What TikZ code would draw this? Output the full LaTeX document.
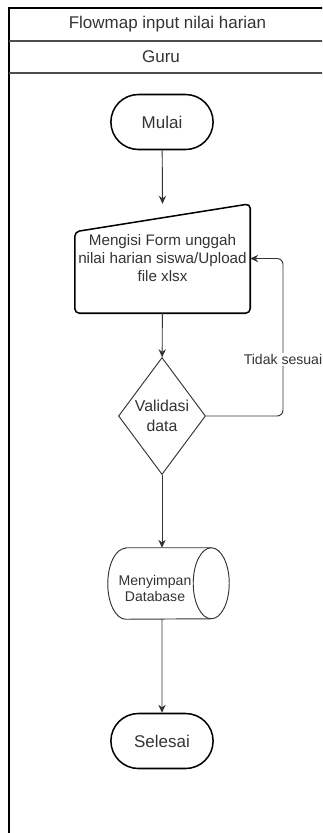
\documentclass[tikz,border=0pt]{standalone}
\usepackage{fontspec}
\setmainfont{Liberation Sans}
\usetikzlibrary{arrows.meta,calc,positioning,shapes.geometric,shapes.misc}
\definecolor{Ink}{HTML}{333333}
\definecolor{LaneLine}{HTML}{4D4D4D}
\tikzset{
  lanetext/.style={text=Ink, font=\fontsize{14.5}{17}\selectfont},
  terminal/.style={
    rounded rectangle, draw=black, line width=1.3pt, text=Ink,
    minimum width=3.3cm, minimum height=1.65cm, font=\fontsize{14.5}{17}\selectfont
  },
  inputbox/.style={
    rectangle, minimum width=5.25cm, minimum height=3.27cm, inner sep=0pt,
    align=center, text=Ink, font=\fontsize{13}{15.4}\selectfont
  },
  decision/.style={
    diamond, draw=Ink, thick, minimum width=2.61cm, minimum height=3.51cm,
    inner sep=0pt, align=center, text=Ink, font=\fontsize{13.5}{17}\selectfont
  },
  storebox/.style={rectangle, minimum width=3.63cm, minimum height=2.13cm, inner sep=0pt},
  storetext/.style={align=center, text=Ink, font=\fontsize{12}{13.7}\selectfont},
  flow/.style={-{Stealth[length=2.4mm,width=2.2mm]}, thick, draw=Ink}
}

\begin{document}
\begin{tikzpicture}[x=0.03cm,y=-0.03cm]
        \useasboundingbox (0,0) rectangle (322,833);
        \clip (0,0) rectangle (322,833);
        % swimlane
        \draw[black,line width=1.2pt] (9,8) rectangle (330,845);
        \draw[LaneLine,line width=1pt] (9,41) -- (330,41) (9,73) -- (330,73);
        \node[lanetext] (title) at (167.5,24.5) {Flowmap input nilai harian};
        \node[lanetext] (lane) at (161,57) {Guru};
        % steps
        \node[terminal] (start) at (162,122) {Mulai};
        \node[inputbox] (form) at (162.5,258.5) {Mengisi Form unggah\\nilai harian siswa/Upload\\file xlsx};
        \draw[black,line width=1.3pt,rounded corners=4pt] (form.south west) -- ([yshift=-0.84cm]form.north west)
          -- (form.north east) -- (form.south east) -- cycle;
        \node[decision] (valid) at (162,416) {Validasi\\data};
        \node[storebox] (db) at (168.5,583.5) {};
        \draw[Ink,thick] ([xshift=0.54cm]db.north west) -- ([xshift=-0.54cm]db.north east)
          arc[start angle=90,end angle=-90,x radius=0.54cm,y radius=1.065cm]
          -- ([xshift=0.54cm]db.south west)
          arc[start angle=270,end angle=90,x radius=0.54cm,y radius=1.065cm] -- cycle;
        \draw[Ink,thick] ([xshift=-0.54cm]db.north east)
          arc[start angle=90,end angle=270,x radius=0.54cm,y radius=1.065cm];
        \node[storetext] (dbtext) at (155,588) {Menyimpan\\Database};
        \node[terminal] (stop) at (162,741) {Selesai};
        % connectors
        \draw[flow] (start) -- (form.north);
        \draw[flow] (form) -- (valid);
        \draw[flow] (valid) -- (valid.south |- db.north);
        \draw[flow] (valid.south |- db.south) -- (stop);
        \draw[flow,rounded corners=5pt] (valid.east) -- ++(77,0) |- (form.east)
          node[pos=0.18,fill=white,inner sep=1pt,text=Ink,font=\fontsize{12}{14}\selectfont] (retry) {Tidak sesuai};
      \end{tikzpicture}
\end{document}
